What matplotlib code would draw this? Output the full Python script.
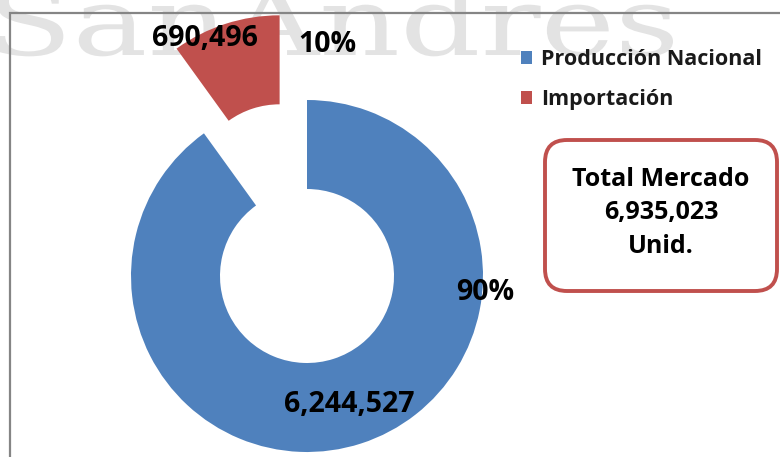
import matplotlib
matplotlib.use('Agg')
import matplotlib.pyplot as plt
from matplotlib.patches import FancyBboxPatch, PathPatch
from matplotlib.textpath import TextPath
from matplotlib.font_manager import FontProperties
from matplotlib.transforms import Affine2D

# Mercado: producción nacional vs importación (unidades)
categorias = ['Producción Nacional', 'Importación']
unidades = [6244527, 690496]
colores = ['#4F81BD', '#C0504D']
total = sum(unidades)
marca = 'SanAndres'

W, H = 780, 457
fig = plt.figure(figsize=(W / 100, H / 100), dpi=100)
ax = fig.add_axes([0, 0, 1, 1])

bold = dict(family='Open Sans', weight='bold')

# marca de agua al fondo
fp = FontProperties(family='DejaVu Serif')
tp = TextPath((0, 0), marca, size=100, prop=fp)
ext = tp.get_extents()
xh = TextPath((0, 0), 'x', size=100, prop=fp).get_extents().height
tr = Affine2D().translate(-ext.x0, 0).scale(676 / ext.width, 49 / xh).translate(-3, H - 55)
ax.add_patch(PathPatch(tr.transform_path(tp), fc='#e3e3e3', ec='none', zorder=0))

# dona con la importación separada
wedges, _ = ax.pie(unidades, colors=colores, startangle=90, counterclock=False,
                   radius=176, center=(307, H - 276), explode=[0, 89],
                   wedgeprops=dict(width=89, linewidth=0))
for w in wedges:
    w.set_zorder(2)

# borde del área del gráfico
ax.plot([9.5, 9.5, W + 5], [-5, H - 13, H - 13], color='#858585', lw=1.6, zorder=1,
        solid_joinstyle='miter')

ax.text(205, H - 39, f'{unidades[1]:,}', ha='center', va='center', fontsize=20.5, zorder=3, **bold)
ax.text(327, H - 45, f'{unidades[1] / total:.0%}', ha='center', va='center', fontsize=20.5, zorder=3, **bold)
ax.text(485, H - 292, f'{unidades[0] / total:.0%}', ha='center', va='center', fontsize=20.5, zorder=3, **bold)
ax.text(349, H - 405, f'{unidades[0]:,}', ha='center', va='center', fontsize=20.5, zorder=3, **bold)

ax.legend(wedges, categorias, loc='upper left', bbox_to_anchor=(502 / W, 1 - 30 / H),
          frameon=False, prop=FontProperties(size=15.5, **bold), handlelength=0.5,
          handleheight=0.55, handletextpad=0.4, labelspacing=0.85, labelcolor='#1a1a1a')

# recuadro del total
caja = FancyBboxPatch((545, H - 291), 232, 151, boxstyle='round,pad=0,rounding_size=22',
                      ec='#C0504D', fc='white', lw=2.8, zorder=3)
ax.add_patch(caja)
ax.text(661, H - 213, f'Total Mercado\n{total:,}\nUnid.', ha='center', va='center',
        fontsize=18, linespacing=1.47, zorder=4, **bold)

ax.set_xlim(0, W)
ax.set_ylim(0, H)
ax.set_aspect('auto')
ax.axis('off')

fig.savefig('out.png', dpi=100, facecolor='white')
